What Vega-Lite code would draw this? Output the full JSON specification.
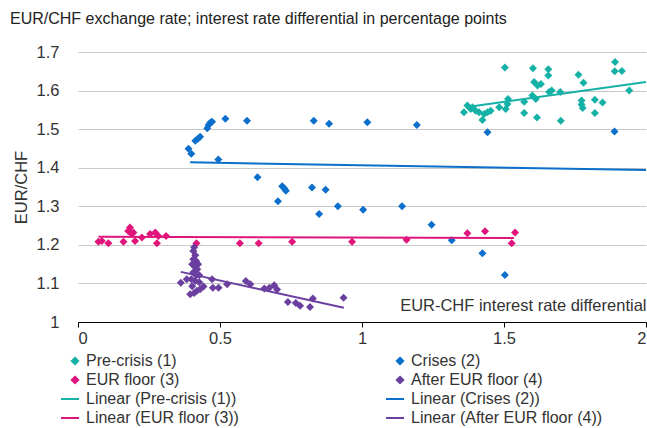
{
  "$schema": "https://vega.github.io/schema/vega-lite/v6.json",
  "width": 568,
  "height": 270,
  "autosize": {"type": "none"},
  "padding": {"left": 78, "top": 52, "right": 1, "bottom": 106},
  "background": "white",
  "config": {
    "font": "Liberation Sans",
    "view": {"stroke": null},
    "axis": {
      "labelFont": "Liberation Sans",
      "labelFontSize": 16.5,
      "labelColor": "#333333",
      "titleFont": "Liberation Sans",
      "titleFontSize": 16.5,
      "titleFontWeight": "normal",
      "titleColor": "#333333"
    }
  },
  "title": {
    "text": "EUR/CHF exchange rate; interest rate differential in percentage points",
    "anchor": "start",
    "frame": "group",
    "dx": -68,
    "offset": 17,
    "fontSize": 16,
    "fontWeight": "normal",
    "color": "#222222",
    "font": "Liberation Sans"
  },
  "datasets": {
    "points": [
      {"s": "Pre-crisis (1)", "x": 1.359, "y": 1.544},
      {"s": "Pre-crisis (1)", "x": 1.371, "y": 1.561},
      {"s": "Pre-crisis (1)", "x": 1.383, "y": 1.552},
      {"s": "Pre-crisis (1)", "x": 1.389, "y": 1.557},
      {"s": "Pre-crisis (1)", "x": 1.400, "y": 1.548},
      {"s": "Pre-crisis (1)", "x": 1.412, "y": 1.544},
      {"s": "Pre-crisis (1)", "x": 1.424, "y": 1.524},
      {"s": "Pre-crisis (1)", "x": 1.430, "y": 1.539},
      {"s": "Pre-crisis (1)", "x": 1.442, "y": 1.544},
      {"s": "Pre-crisis (1)", "x": 1.453, "y": 1.548},
      {"s": "Pre-crisis (1)", "x": 1.483, "y": 1.557},
      {"s": "Pre-crisis (1)", "x": 1.503, "y": 1.660},
      {"s": "Pre-crisis (1)", "x": 1.506, "y": 1.552},
      {"s": "Pre-crisis (1)", "x": 1.512, "y": 1.565},
      {"s": "Pre-crisis (1)", "x": 1.514, "y": 1.578},
      {"s": "Pre-crisis (1)", "x": 1.571, "y": 1.571},
      {"s": "Pre-crisis (1)", "x": 1.571, "y": 1.542},
      {"s": "Pre-crisis (1)", "x": 1.602, "y": 1.658},
      {"s": "Pre-crisis (1)", "x": 1.606, "y": 1.622},
      {"s": "Pre-crisis (1)", "x": 1.618, "y": 1.613},
      {"s": "Pre-crisis (1)", "x": 1.630, "y": 1.617},
      {"s": "Pre-crisis (1)", "x": 1.600, "y": 1.587},
      {"s": "Pre-crisis (1)", "x": 1.612, "y": 1.578},
      {"s": "Pre-crisis (1)", "x": 1.616, "y": 1.530},
      {"s": "Pre-crisis (1)", "x": 1.656, "y": 1.655},
      {"s": "Pre-crisis (1)", "x": 1.656, "y": 1.639},
      {"s": "Pre-crisis (1)", "x": 1.659, "y": 1.596},
      {"s": "Pre-crisis (1)", "x": 1.668, "y": 1.600},
      {"s": "Pre-crisis (1)", "x": 1.698, "y": 1.596},
      {"s": "Pre-crisis (1)", "x": 1.700, "y": 1.522},
      {"s": "Pre-crisis (1)", "x": 1.762, "y": 1.641},
      {"s": "Pre-crisis (1)", "x": 1.780, "y": 1.620},
      {"s": "Pre-crisis (1)", "x": 1.773, "y": 1.574},
      {"s": "Pre-crisis (1)", "x": 1.773, "y": 1.564},
      {"s": "Pre-crisis (1)", "x": 1.777, "y": 1.555},
      {"s": "Pre-crisis (1)", "x": 1.820, "y": 1.576},
      {"s": "Pre-crisis (1)", "x": 1.820, "y": 1.542},
      {"s": "Pre-crisis (1)", "x": 1.847, "y": 1.569},
      {"s": "Pre-crisis (1)", "x": 1.891, "y": 1.674},
      {"s": "Pre-crisis (1)", "x": 1.890, "y": 1.650},
      {"s": "Pre-crisis (1)", "x": 1.915, "y": 1.651},
      {"s": "Pre-crisis (1)", "x": 1.941, "y": 1.600},

      {"s": "Crises (2)", "x": 0.389, "y": 1.449},
      {"s": "Crises (2)", "x": 0.399, "y": 1.436},
      {"s": "Crises (2)", "x": 0.413, "y": 1.470},
      {"s": "Crises (2)", "x": 0.422, "y": 1.475},
      {"s": "Crises (2)", "x": 0.430, "y": 1.480},
      {"s": "Crises (2)", "x": 0.455, "y": 1.502},
      {"s": "Crises (2)", "x": 0.460, "y": 1.511},
      {"s": "Crises (2)", "x": 0.466, "y": 1.517},
      {"s": "Crises (2)", "x": 0.472, "y": 1.519},
      {"s": "Crises (2)", "x": 0.519, "y": 1.527},
      {"s": "Crises (2)", "x": 0.595, "y": 1.522},
      {"s": "Crises (2)", "x": 0.494, "y": 1.421},
      {"s": "Crises (2)", "x": 0.632, "y": 1.375},
      {"s": "Crises (2)", "x": 0.719, "y": 1.352},
      {"s": "Crises (2)", "x": 0.727, "y": 1.346},
      {"s": "Crises (2)", "x": 0.732, "y": 1.340},
      {"s": "Crises (2)", "x": 0.704, "y": 1.313},
      {"s": "Crises (2)", "x": 0.824, "y": 1.349},
      {"s": "Crises (2)", "x": 0.872, "y": 1.343},
      {"s": "Crises (2)", "x": 0.830, "y": 1.522},
      {"s": "Crises (2)", "x": 0.884, "y": 1.514},
      {"s": "Crises (2)", "x": 1.019, "y": 1.518},
      {"s": "Crises (2)", "x": 1.193, "y": 1.511},
      {"s": "Crises (2)", "x": 0.849, "y": 1.280},
      {"s": "Crises (2)", "x": 0.915, "y": 1.300},
      {"s": "Crises (2)", "x": 1.004, "y": 1.291},
      {"s": "Crises (2)", "x": 1.141, "y": 1.300},
      {"s": "Crises (2)", "x": 1.245, "y": 1.252},
      {"s": "Crises (2)", "x": 1.316, "y": 1.212},
      {"s": "Crises (2)", "x": 1.424, "y": 1.178},
      {"s": "Crises (2)", "x": 1.503, "y": 1.122},
      {"s": "Crises (2)", "x": 1.442, "y": 1.492},
      {"s": "Crises (2)", "x": 1.889, "y": 1.494},

      {"s": "EUR floor (3)", "x": 0.072, "y": 1.208},
      {"s": "EUR floor (3)", "x": 0.084, "y": 1.210},
      {"s": "EUR floor (3)", "x": 0.107, "y": 1.204},
      {"s": "EUR floor (3)", "x": 0.160, "y": 1.208},
      {"s": "EUR floor (3)", "x": 0.177, "y": 1.236},
      {"s": "EUR floor (3)", "x": 0.183, "y": 1.245},
      {"s": "EUR floor (3)", "x": 0.189, "y": 1.228},
      {"s": "EUR floor (3)", "x": 0.195, "y": 1.232},
      {"s": "EUR floor (3)", "x": 0.201, "y": 1.210},
      {"s": "EUR floor (3)", "x": 0.225, "y": 1.219},
      {"s": "EUR floor (3)", "x": 0.254, "y": 1.228},
      {"s": "EUR floor (3)", "x": 0.272, "y": 1.232},
      {"s": "EUR floor (3)", "x": 0.283, "y": 1.223},
      {"s": "EUR floor (3)", "x": 0.278, "y": 1.204},
      {"s": "EUR floor (3)", "x": 0.310, "y": 1.223},
      {"s": "EUR floor (3)", "x": 0.417, "y": 1.204},
      {"s": "EUR floor (3)", "x": 0.570, "y": 1.204},
      {"s": "EUR floor (3)", "x": 0.636, "y": 1.204},
      {"s": "EUR floor (3)", "x": 0.754, "y": 1.208},
      {"s": "EUR floor (3)", "x": 0.965, "y": 1.208},
      {"s": "EUR floor (3)", "x": 1.157, "y": 1.213},
      {"s": "EUR floor (3)", "x": 1.371, "y": 1.230},
      {"s": "EUR floor (3)", "x": 1.433, "y": 1.235},
      {"s": "EUR floor (3)", "x": 1.539, "y": 1.232},
      {"s": "EUR floor (3)", "x": 1.527, "y": 1.204},

      {"s": "After EUR floor (4)", "x": 0.362, "y": 1.102},
      {"s": "After EUR floor (4)", "x": 0.383, "y": 1.111},
      {"s": "After EUR floor (4)", "x": 0.395, "y": 1.072},
      {"s": "After EUR floor (4)", "x": 0.419, "y": 1.081},
      {"s": "After EUR floor (4)", "x": 0.442, "y": 1.092},
      {"s": "After EUR floor (4)", "x": 0.472, "y": 1.111},
      {"s": "After EUR floor (4)", "x": 0.475, "y": 1.089},
      {"s": "After EUR floor (4)", "x": 0.495, "y": 1.089},
      {"s": "After EUR floor (4)", "x": 0.525, "y": 1.098},
      {"s": "After EUR floor (4)", "x": 0.591, "y": 1.106},
      {"s": "After EUR floor (4)", "x": 0.607, "y": 1.098},
      {"s": "After EUR floor (4)", "x": 0.656, "y": 1.087},
      {"s": "After EUR floor (4)", "x": 0.674, "y": 1.089},
      {"s": "After EUR floor (4)", "x": 0.691, "y": 1.095},
      {"s": "After EUR floor (4)", "x": 0.701, "y": 1.084},
      {"s": "After EUR floor (4)", "x": 0.739, "y": 1.052},
      {"s": "After EUR floor (4)", "x": 0.767, "y": 1.049},
      {"s": "After EUR floor (4)", "x": 0.782, "y": 1.042},
      {"s": "After EUR floor (4)", "x": 0.817, "y": 1.039},
      {"s": "After EUR floor (4)", "x": 0.827, "y": 1.061},
      {"s": "After EUR floor (4)", "x": 0.935, "y": 1.063},
      {"s": "After EUR floor (4)", "x": 0.409, "y": 1.194},
      {"s": "After EUR floor (4)", "x": 0.406, "y": 1.184},
      {"s": "After EUR floor (4)", "x": 0.413, "y": 1.173},
      {"s": "After EUR floor (4)", "x": 0.406, "y": 1.163},
      {"s": "After EUR floor (4)", "x": 0.416, "y": 1.158},
      {"s": "After EUR floor (4)", "x": 0.402, "y": 1.150},
      {"s": "After EUR floor (4)", "x": 0.413, "y": 1.142},
      {"s": "After EUR floor (4)", "x": 0.423, "y": 1.150},
      {"s": "After EUR floor (4)", "x": 0.420, "y": 1.137},
      {"s": "After EUR floor (4)", "x": 0.406, "y": 1.129},
      {"s": "After EUR floor (4)", "x": 0.416, "y": 1.121},
      {"s": "After EUR floor (4)", "x": 0.427, "y": 1.121},
      {"s": "After EUR floor (4)", "x": 0.399, "y": 1.111},
      {"s": "After EUR floor (4)", "x": 0.413, "y": 1.106},
      {"s": "After EUR floor (4)", "x": 0.427, "y": 1.103},
      {"s": "After EUR floor (4)", "x": 0.402, "y": 1.093},
      {"s": "After EUR floor (4)", "x": 0.409, "y": 1.075},
      {"s": "After EUR floor (4)", "x": 0.430, "y": 1.085}
    ],
    "trends": [
      {"s": "Linear (Pre-crisis (1))", "x": 1.383, "y": 1.559},
      {"s": "Linear (Pre-crisis (1))", "x": 2.0, "y": 1.622},
      {"s": "Linear (Crises (2))", "x": 0.395, "y": 1.414},
      {"s": "Linear (Crises (2))", "x": 2.0, "y": 1.394},
      {"s": "Linear (EUR floor (3))", "x": 0.072, "y": 1.221},
      {"s": "Linear (EUR floor (3))", "x": 1.535, "y": 1.218},
      {"s": "Linear (After EUR floor (4))", "x": 0.362, "y": 1.130},
      {"s": "Linear (After EUR floor (4))", "x": 0.936, "y": 1.037}
    ]
  },
  "encoding": {
    "x": {
      "field": "x", "type": "quantitative",
      "scale": {"domain": [0, 2]},
      "axis": {
        "values": [0, 0.5, 1, 1.5, 2], "format": "~g", "grid": false,
        "domainColor": "#000000", "tickColor": "#000000", "tickSize": 5, "labelPadding": 3,
        "title": "EUR-CHF interest rate differential",
        "titleAlign": "right", "titleX": 568, "titleY": -9, "titleBaseline": "bottom"
      }
    },
    "y": {
      "field": "y", "type": "quantitative",
      "scale": {"domain": [1, 1.7]},
      "axis": {
        "values": [1, 1.1, 1.2, 1.3, 1.4, 1.5, 1.6, 1.7], "format": "~g",
        "labelOverlap": false,
        "domain": false, "ticks": false, "grid": true, "gridColor": "#c8c8c8",
        "labelPadding": 19, "title": "EUR/CHF", "titlePadding": 7
      }
    }
  },
  "layer": [
    {
      "data": {"name": "points"},
      "mark": {"type": "point", "filled": true, "size": 100, "opacity": 1},
      "encoding": {
        "color": {
          "field": "s", "type": "nominal",
          "scale": {
            "domain": ["Pre-crisis (1)", "EUR floor (3)", "Linear (Pre-crisis (1))", "Linear (EUR floor (3))", "Crises (2)", "After EUR floor (4)", "Linear (Crises (2))", "Linear (After EUR floor (4))"],
            "range": ["#16b1a6", "#e0157c", "#16b1a6", "#e0157c", "#0b6fcb", "#6b3fa0", "#0b6fcb", "#6b3fa0"]
          },
          "legend": {
            "title": null, "orient": "none", "legendX": -11, "legendY": 301,
            "columns": 2, "columnPadding": 143, "rowPadding": 3,
            "labelFontSize": 16, "labelColor": "#333333", "labelFont": "Liberation Sans", "labelLimit": 400,
            "symbolSize": 64, "symbolStrokeWidth": 2, "labelOffset": 3,
            "encode": {"symbols": {"update": {"stroke": {"scale": "color", "field": "value"}}}}
          }
        },
        "shape": {
          "field": "s", "type": "nominal",
          "scale": {
            "domain": ["Pre-crisis (1)", "EUR floor (3)", "Linear (Pre-crisis (1))", "Linear (EUR floor (3))", "Crises (2)", "After EUR floor (4)", "Linear (Crises (2))", "Linear (After EUR floor (4))"],
            "range": ["M0,-0.8L0.8,0L0,0.8L-0.8,0Z", "M0,-0.8L0.8,0L0,0.8L-0.8,0Z", "M-3.5,0L1,0", "M-3.5,0L1,0", "M0,-0.8L0.8,0L0,0.8L-0.8,0Z", "M0,-0.8L0.8,0L0,0.8L-0.8,0Z", "M-3.5,0L1,0", "M-3.5,0L1,0"]
          },
          "legend": {
            "title": null, "orient": "none", "legendX": -11, "legendY": 301,
            "columns": 2, "columnPadding": 143, "rowPadding": 3,
            "labelFontSize": 16, "labelColor": "#333333", "labelFont": "Liberation Sans", "labelLimit": 400,
            "symbolSize": 64, "symbolStrokeWidth": 2, "labelOffset": 3
          }
        }
      }
    },
    {
      "data": {"name": "trends"},
      "mark": {"type": "line", "strokeWidth": 2},
      "encoding": {
        "color": {"field": "s", "type": "nominal"}
      }
    }
  ]
}
